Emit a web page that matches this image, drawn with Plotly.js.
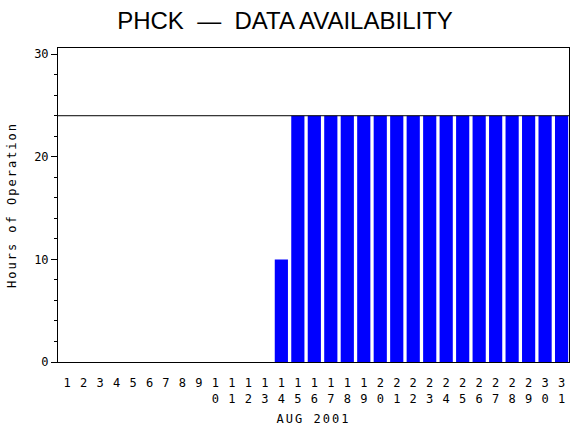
<!DOCTYPE html>
<html>
<head>
<meta charset="utf-8">
<script src="https://cdn.plot.ly/plotly-3.0.1.min.js"></script>
<style>
  html, body { margin: 0; padding: 0; background: #fff; }
  #chart { width: 570px; height: 430px; }
</style>
</head>
<body>
<div id="chart"></div>
<script>
// days of August 2001 and hours of operation per day
const days = [];
for (let d = 1; d <= 31; d++) days.push(d);
const hours = [
  0, 0, 0, 0, 0, 0, 0, 0, 0, 0,
  0, 0, 0, 10, 24, 24, 24, 24, 24, 24,
  24, 24, 24, 24, 24, 24, 24, 24, 24, 24,
  24,
];
const maxHours = 24;
const yTicks = [0, 10, 20, 30];

// two-digit days are stacked one digit over the other
const dayLabels = days.map((d) => String(d).split("").join("<br>"));

const monoFont = { family: "DejaVu Sans Mono", size: 12, color: "#000" };

const barTrace = {
  type: "bar",
  x: days,
  y: hours,
  width: 0.8,
  marker: { color: "#0000ff", line: { width: 0 } },
  hoverinfo: "x+y",
};

const layout = {
  width: 570,
  height: 430,
  paper_bgcolor: "#fff",
  plot_bgcolor: "#fff",
  showlegend: false,
  margin: { l: 58, r: 1, t: 48, b: 68 },
  title: {
    text: "PHCK\u00a0\u00a0\u2014\u00a0\u00a0DATA AVAILABILITY",
    font: { family: "Liberation Sans", size: 24, color: "#000" },
    x: 0.5,
    xanchor: "center",
    y: 0.952,
    yanchor: "middle",
  },
  xaxis: {
    range: [0.45, 31.45],
    tickmode: "array",
    tickvals: days,
    ticktext: dayLabels,
    // invisible ticks just push the day labels down
    ticks: "outside",
    ticklen: 10,
    tickcolor: "rgba(0,0,0,0)",
    tickfont: monoFont,
    showgrid: false,
    zeroline: false,
    showline: true,
    linecolor: "#000",
    linewidth: 1,
    mirror: true,
    title: { text: "AUG 2001", font: monoFont, standoff: 9 },
  },
  yaxis: {
    range: [0, 30.6],
    tickmode: "array",
    tickvals: yTicks,
    ticks: "outside",
    ticklen: 6,
    tickcolor: "#000",
    minor: { dtick: 2, ticks: "outside", ticklen: 3, tickcolor: "#000" },
    tickfont: monoFont,
    showgrid: false,
    zeroline: false,
    showline: true,
    linecolor: "#000",
    linewidth: 1,
    mirror: true,
    title: { text: "Hours of Operation", font: monoFont, standoff: 14 },
  },
  shapes: [
    {
      type: "line",
      xref: "paper",
      yref: "y",
      x0: 0,
      x1: 1,
      y0: maxHours,
      y1: maxHours,
      line: { color: "#000", width: 1 },
    },
  ],
};

Plotly.newPlot("chart", [barTrace], layout, { displayModeBar: false, staticPlot: true }).then((gd) => {
  // the original uses a widely spaced bitmap font
  gd.querySelectorAll("text.xtitle, text.ytitle").forEach((el) => {
    el.style.letterSpacing = "2px";
  });
});
</script>
</body>
</html>
